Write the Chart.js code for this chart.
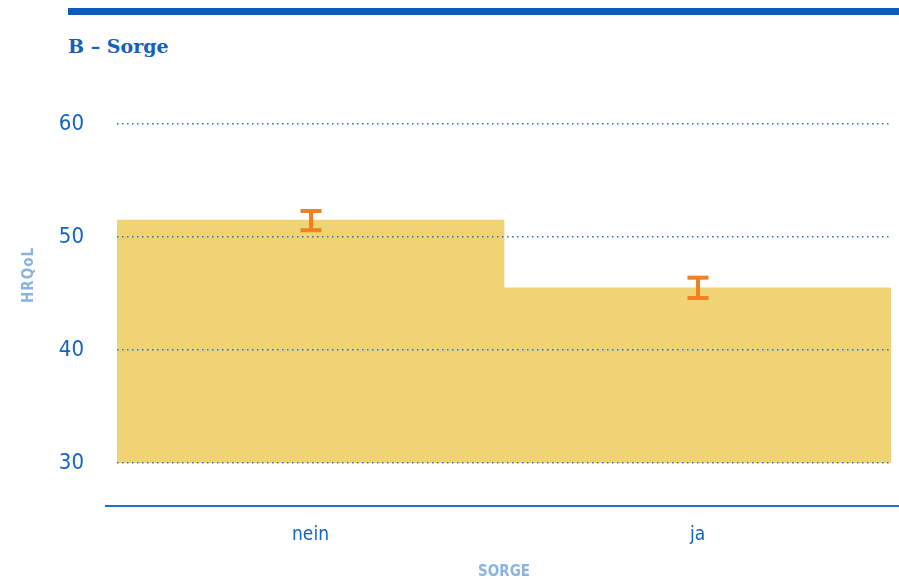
<!DOCTYPE html>
<html>
<head>
<meta charset="utf-8">
<script src="https://cdn.jsdelivr.net/npm/chart.js@4"></script>
<style>
  body { margin: 0; background: #fff; }
  .topbar { position: absolute; left: 68px; top: 8px; width: 831px; height: 7px; background: #0a5cb8; }
  .title { position: absolute; left: 68px; top: 35px; font: bold 19px 'DejaVu Serif', serif; color: #1560b8; }
  #chart { position: absolute; left: 0; top: 0; }
</style>
</head>
<body>
<div class="topbar"></div>
<div class="title">B – Sorge</div>
<canvas id="chart" width="899" height="579"></canvas>
<script>
const categories = ['nein', 'ja'];
const means = [51.5, 45.5];
const ciLow = [50.6, 44.6];
const ciHigh = [52.3, 46.4];
const yTicks = [30, 40, 50, 60];

const blue = '#1464c0';
const lightBlue = '#8ab4e0';
const condensed = "'DejaVu Sans Condensed', 'Open Sans', sans-serif";

// error bars, the low axis line and the rotated y title
const extras = {
    id: 'extras',
    afterDatasetsDraw(chart) {
        const ctx = chart.ctx;
        const x = chart.scales.x;
        const y = chart.scales.y;
        ctx.save();
        ctx.fillStyle = '#f08020';
        categories.forEach((c, i) => {
            const cx = Math.round(x.getPixelForValue(i));
            const top = y.getPixelForValue(ciHigh[i]);
            const bot = y.getPixelForValue(ciLow[i]);
            ctx.fillRect(cx - 2, top, 4, bot - top);
            ctx.fillRect(cx - 10.5, top - 2, 21, 4);
            ctx.fillRect(cx - 10.5, bot - 2, 21, 4);
        });
        ctx.restore();
    },
    afterDraw(chart) {
        const ctx = chart.ctx;
        const area = chart.chartArea;
        ctx.save();
        ctx.strokeStyle = '#1a6fd0';
        ctx.lineWidth = 2;
        ctx.beginPath();
        ctx.moveTo(105, area.bottom + 43);
        ctx.lineTo(899, area.bottom + 43);
        ctx.stroke();

        ctx.translate(29, 275);
        ctx.rotate(-Math.PI / 2);
        ctx.fillStyle = lightBlue;
        ctx.font = 'bold 15px ' + condensed;
        ctx.letterSpacing = '1px';
        ctx.textAlign = 'center';
        ctx.textBaseline = 'middle';
        ctx.fillText('HRQoL', 0, 0);
        ctx.restore();
    }
};

new Chart(document.getElementById('chart'), {
    type: 'bar',
    data: {
        labels: categories,
        datasets: [{
            data: means,
            backgroundColor: '#f0d372',
            borderWidth: 0,
            categoryPercentage: 1,
            barPercentage: 1
        }]
    },
    options: {
        responsive: false,
        animation: false,
        layout: { padding: { top: 124, right: 8, left: 0, bottom: 0 } },
        plugins: { legend: { display: false }, tooltip: { enabled: false } },
        scales: {
            x: {
                grid: { display: false },
                border: { display: false },
                ticks: { color: blue, font: { size: 19, family: condensed }, padding: 53 },
                title: {
                    display: true,
                    text: 'SORGE',
                    color: lightBlue,
                    font: { size: 15, weight: 'bold', family: condensed },
                    padding: { top: 0, bottom: -2 }
                },
                afterFit(scale) { scale.height = 116; }
            },
            y: {
                min: 30,
                max: 60,
                afterBuildTicks(scale) { scale.ticks = yTicks.map(v => ({ value: v })); },
                grid: { color: '#2a6fc8', lineWidth: 1.5, drawTicks: false, z: 1 },
                border: { display: false, dash: [1.5, 3.5] },
                ticks: { color: blue, font: { size: 22, family: condensed }, padding: 33 },
                afterFit(scale) { scale.width = 117; }
            }
        }
    },
    plugins: [extras]
});
</script>
</body>
</html>
